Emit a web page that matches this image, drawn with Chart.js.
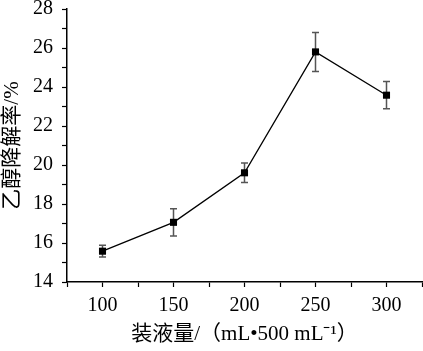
<!DOCTYPE html>
<html>
<head>
<meta charset="utf-8">
<script src="https://cdn.jsdelivr.net/npm/chart.js@4.4.1/dist/chart.umd.min.js"></script>
<style>
  html, body { margin: 0; padding: 0; background: #fff; }
  #wrap { width: 423px; height: 351px; }
</style>
</head>
<body>
<div id="wrap"><canvas id="chartContainer"></canvas></div>
<script>
// liquid volume, mL per 500 mL flask
const volumes = [100, 150, 200, 250, 300];
// ethanol degradation rate, %
const rates = [15.58, 17.06, 19.6, 25.8, 23.58];
const errors = [0.3, 0.7, 0.5, 1.0, 0.7];

const serif = '"Liberation Serif", "Times New Roman", "Noto Sans CJK SC", serif';

// vertical error bars drawn through the y scale
const errorBars = {
    id: 'errorBars',
    beforeDatasetsDraw(chart) {
        const ctx = chart.ctx;
        const xs = chart.scales.x;
        const ys = chart.scales.y;
        ctx.save();
        ctx.strokeStyle = '#555';
        ctx.lineWidth = 1.5;
        volumes.forEach((v, i) => {
            const x = xs.getPixelForValue(v);
            const top = ys.getPixelForValue(rates[i] + errors[i]);
            const bot = ys.getPixelForValue(rates[i] - errors[i]);
            ctx.beginPath();
            ctx.moveTo(x, top);
            ctx.lineTo(x, bot);
            ctx.moveTo(x - 3.5, top);
            ctx.lineTo(x + 3.5, top);
            ctx.moveTo(x - 3.5, bot);
            ctx.lineTo(x + 3.5, bot);
            ctx.stroke();
        });
        ctx.restore();
    }
};

function createChart(ctx) {
    return new Chart(ctx, {
        type: 'line',
        data: {
            datasets: [{
                data: volumes.map((v, i) => ({ x: v, y: rates[i] })),
                borderColor: '#000',
                borderWidth: 1.3,
                backgroundColor: '#000',
                pointStyle: 'rect',
                pointRadius: 5,
                pointBorderWidth: 0,
                tension: 0,
                fill: false
            }]
        },
        options: {
            responsive: true,
            maintainAspectRatio: false,
            animation: false,
            plugins: {
                legend: { display: false },
                tooltip: { enabled: false }
            },
            layout: {
                autoPadding: false,
                padding: { top: 9, right: 1, left: 0, bottom: 0 }
            },
            scales: {
                x: {
                    type: 'linear',
                    min: 75,
                    max: 325,
                    afterFit(scale) {
                        scale.height = 69;
                        scale.paddingLeft = 0;
                        scale.paddingRight = 0;
                    },
                    ticks: {
                        stepSize: 25,
                        autoSkip: false,
                        maxRotation: 0,
                        padding: 7,
                        color: '#000',
                        font: { family: serif, size: 20 },
                        callback: v => (v % 50 === 0 ? String(v) : '')
                    },
                    grid: {
                        drawOnChartArea: false,
                        tickLength: 5,
                        tickColor: '#000',
                        tickWidth: 1.2
                    },
                    border: { color: '#000', width: 1.5 },
                    title: {
                        display: true,
                        text: '装液量/（mL•500 mL⁻¹）',
                        color: '#000',
                        font: { family: serif, size: 21 },
                        padding: { top: 0, bottom: 4 }
                    }
                },
                y: {
                    type: 'linear',
                    min: 14,
                    max: 28,
                    afterFit(scale) {
                        scale.width = 67;
                        scale.paddingTop = 0;
                        scale.paddingBottom = 0;
                    },
                    ticks: {
                        stepSize: 1,
                        autoSkip: false,
                        padding: 9,
                        color: '#000',
                        font: { family: serif, size: 20 },
                        callback: v => (v % 2 === 0 ? String(v) : '')
                    },
                    grid: {
                        drawOnChartArea: false,
                        tickLength: 5,
                        tickColor: '#000',
                        tickWidth: 1.2
                    },
                    border: { color: '#000', width: 1.5 },
                    title: {
                        display: true,
                        text: '乙醇降解率/%',
                        color: '#000',
                        font: { family: serif, size: 21 },
                        padding: { top: 0, bottom: 0 }
                    }
                }
            }
        },
        plugins: [errorBars]
    });
}

createChart(document.getElementById('chartContainer').getContext('2d'));
</script>
</body>
</html>
